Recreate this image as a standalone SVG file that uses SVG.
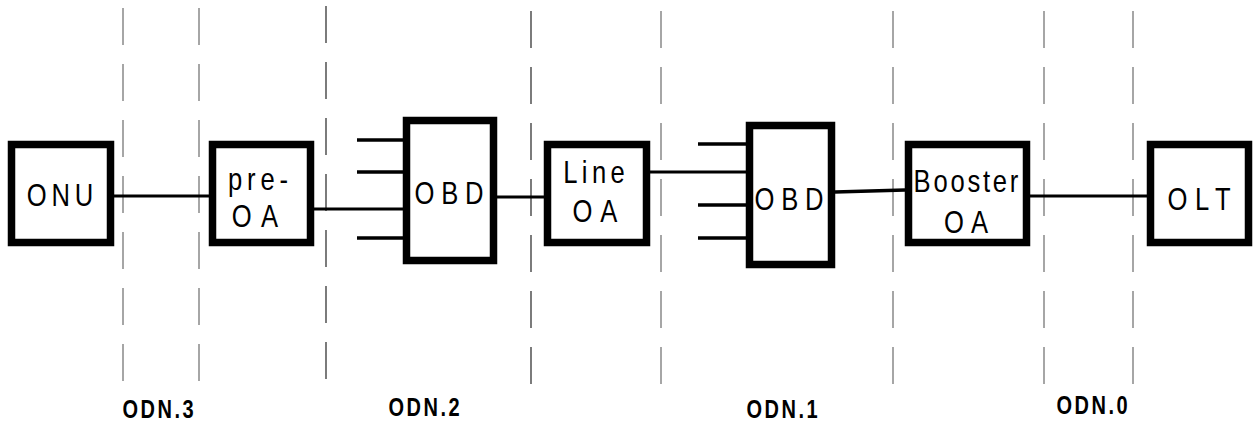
<svg xmlns="http://www.w3.org/2000/svg" width="1257" height="423" viewBox="0 0 1257 423">
<style>
.box{fill:#fff;stroke:#000;stroke-width:7.5}
.lbl{font-family:"Liberation Sans",Arial,sans-serif;font-size:32px;text-anchor:middle;fill:#000}
.odn{font-family:"Liberation Sans",Arial,sans-serif;font-size:25px;font-weight:bold;text-anchor:middle;fill:#000}
.conn{stroke:#000;stroke-width:3;fill:none}
.stub{stroke:#000;stroke-width:3.5;fill:none}
.dash{stroke:#777;stroke-width:1.3;stroke-dasharray:37 19;fill:none}
.dashk{stroke:#111;stroke-width:1.1;stroke-dasharray:37 19;fill:none}
</style>
<rect width="1257" height="423" fill="#fff"/>
<g id="boundaries">
<line class="dash" x1="123" y1="8" x2="123" y2="382"/>
<line class="dash" x1="199" y1="8" x2="199" y2="382"/>
<line class="dashk" x1="326" y1="6" x2="326" y2="380"/>
<line class="dashk" x1="531" y1="11" x2="531" y2="385"/>
<line class="dash" x1="661" y1="11" x2="661" y2="385"/>
<line class="dash" x1="893" y1="11" x2="893" y2="385"/>
<line class="dash" x1="1044" y1="11" x2="1044" y2="385"/>
<line class="dash" x1="1133" y1="11" x2="1133" y2="385"/>
</g>
<g id="connectors">
<line class="conn" x1="114" y1="196" x2="209" y2="196"/>
<line class="conn" x1="314" y1="209" x2="403" y2="209"/>
<line class="stub" x1="357" y1="140" x2="403" y2="140"/>
<line class="stub" x1="357" y1="172" x2="403" y2="172"/>
<line class="stub" x1="357" y1="238" x2="403" y2="238"/>
<line class="conn" x1="497" y1="197" x2="544" y2="197"/>
<line class="conn" x1="650" y1="172" x2="746" y2="172"/>
<line class="stub" x1="698" y1="144" x2="746" y2="144"/>
<line class="stub" x1="698" y1="205" x2="746" y2="205"/>
<line class="stub" x1="698" y1="238" x2="746" y2="238"/>
<line class="stub" x1="835" y1="192" x2="905" y2="190"/>
<line class="conn" x1="1030" y1="196" x2="1147" y2="196"/>
</g>
<g id="onu">
<rect class="box" x="11.5" y="144.5" width="99" height="98"/>
<text class="lbl" transform="translate(60,206) scale(0.8,1)" textLength="83" lengthAdjust="spacing">ONU</text>
</g>
<g id="pre-oa">
<rect class="box" x="212.5" y="144.5" width="98" height="98"/>
<text class="lbl" transform="translate(258,190) scale(0.8,1)" textLength="75" lengthAdjust="spacing">pre-</text>
<text class="lbl" transform="translate(255,227) scale(0.8,1)" textLength="58" lengthAdjust="spacing">OA</text>
</g>
<g id="obd-1">
<rect class="box" x="406.5" y="120.5" width="87" height="140"/>
<text class="lbl" transform="translate(449,204) scale(0.8,1)" textLength="86" lengthAdjust="spacing">OBD</text>
</g>
<g id="line-oa">
<rect class="box" x="547.5" y="144.5" width="99" height="98"/>
<text class="lbl" transform="translate(594,183) scale(0.8,1)" textLength="77" lengthAdjust="spacing">Line</text>
<text class="lbl" transform="translate(595,222) scale(0.8,1)" textLength="56" lengthAdjust="spacing">OA</text>
</g>
<g id="obd-2">
<rect class="box" x="749.5" y="125.5" width="82" height="139"/>
<text class="lbl" transform="translate(789,210) scale(0.8,1)" textLength="86" lengthAdjust="spacing">OBD</text>
</g>
<g id="booster-oa">
<rect class="box" x="908.5" y="144.5" width="118" height="98"/>
<text class="lbl" transform="translate(966,192) scale(0.8,1)" textLength="131" lengthAdjust="spacing">Booster</text>
<text class="lbl" transform="translate(966,233) scale(0.8,1)" textLength="55" lengthAdjust="spacing">OA</text>
</g>
<g id="olt">
<rect class="box" x="1150.5" y="144.5" width="98" height="98"/>
<text class="lbl" transform="translate(1199,210) scale(0.8,1)" textLength="79" lengthAdjust="spacing">OLT</text>
</g>
<g id="labels">
<text class="odn" transform="translate(158,418) scale(0.8,1)" textLength="89" lengthAdjust="spacing">ODN.3</text>
<text class="odn" transform="translate(424,416) scale(0.8,1)" textLength="89" lengthAdjust="spacing">ODN.2</text>
<text class="odn" transform="translate(782,418) scale(0.8,1)" textLength="89" lengthAdjust="spacing">ODN.1</text>
<text class="odn" transform="translate(1092,414) scale(0.8,1)" textLength="89" lengthAdjust="spacing">ODN.0</text>
</g>
</svg>
